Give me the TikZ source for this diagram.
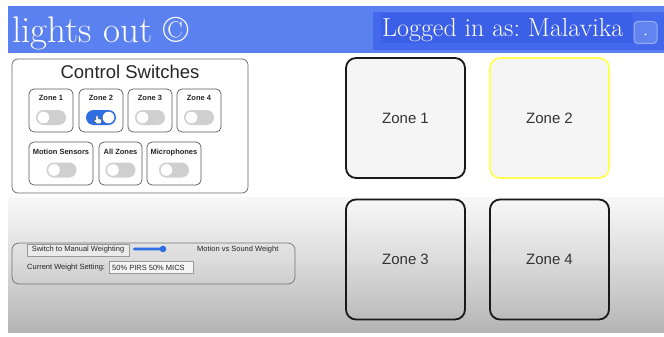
\documentclass[tikz,border=0pt]{standalone}
\usepackage{fontspec}
\setsansfont{Liberation Sans}
\usetikzlibrary{calc}
\frenchspacing
\definecolor{barblue}{HTML}{5B80EF}
\definecolor{userblue}{HTML}{4468EC}
\definecolor{namehl}{HTML}{3B5FE6}
\definecolor{btnblue}{HTML}{6A8BF0}
\definecolor{toggleoff}{HTML}{CFCFCF}
\definecolor{toggleon}{HTML}{2F6FE3}
\definecolor{cardfill}{HTML}{F5F5F5}
\definecolor{zoneyellow}{HTML}{FFFF55}
\tikzset{
  panel/.style={draw=black!60, rounded corners=6pt, line width=0.7pt},
  minicard/.style={draw=black!65, rounded corners=5pt, line width=0.7pt, fill=white},
  minilabel/.style={font=\sffamily\bfseries\fontsize{7.5}{8}\selectfont, text=black!85, inner sep=0pt},
  bigcard/.style={draw=black!90, rounded corners=10pt, line width=1.8pt,
    minimum width=119pt, minimum height=120pt, inner sep=0pt,
    font=\sffamily\fontsize{15}{16}\selectfont, text=black!80},
  smalltext/.style={font=\sffamily\fontsize{7.5}{8}\selectfont, text=black!85, inner sep=0pt},
  formbox/.style={draw=black!40, fill=black!8, inner sep=0pt},
}
% toggle switch: #1 centre, #2 on/off
\newcommand{\togglesw}[2]{%
  \ifnum#2=1
    \fill[toggleon, rounded corners=7.5pt] ($(#1)+(-15,-7.5)$) rectangle ($(#1)+(15,7.5)$);
    \fill[white] ($(#1)+(7.5,0)$) circle (5.8);
  \else
    \fill[toggleoff, rounded corners=7.5pt] ($(#1)+(-15,-7.5)$) rectangle ($(#1)+(15,7.5)$);
    \fill[white] ($(#1)+(-7.5,0)$) circle (5.8);
  \fi}
\begin{document}
\begin{tikzpicture}[x=1pt,y=-1pt]
\useasboundingbox (0,0) rectangle (664,337);
\fill[white] (0,0) rectangle (664,337);

% page background: white top, grey gradient lower part (drawn as thin bands)
\foreach \i in {0,...,67}{
  \pgfmathsetmacro\shadeval{3+21*\i/67+5.5*(\i/67)^2}
  \fill[black!\shadeval] (8,197+2*\i) rectangle (664,199.6+2*\i);
}
\fill[white] (0,333) rectangle (664,337);

% header bar
\fill[barblue] (8,6) rectangle (664,53);
\node[anchor=base west, inner sep=0pt, text=white, font=\fontsize{37}{38}\selectfont]
  (brand) at (12,43) {lights out \textcopyright};
\fill[userblue] (373,12) rectangle (664,50);
\fill[namehl] (381,13) rectangle (633,43);
\node[anchor=base west, inner sep=0pt, text=white, font=\fontsize{26}{27}\selectfont]
  (user) at (382,37) {Logged in as: Malavika};
\node[draw=btnblue!70!white, fill=btnblue!80!userblue, rounded corners=4pt, line width=1pt,
  minimum width=23pt, minimum height=22pt, inner sep=0pt] (menu) at (645.5,32.5) {};
\fill[white] ($(menu.center)+(-1.3,1.5)$) -- ($(menu.center)+(1.3,1.5)$) -- ($(menu.center)+(0,3)$) -- cycle;

% control switches panel
\node[panel, fill=white, minimum width=236pt, minimum height=134pt, inner sep=0pt]
  (ctrl) at (130,126) {};
\node[anchor=base, inner sep=0pt, font=\sffamily\fontsize{18.5}{19}\selectfont, text=black!85]
  (ctrltitle) at (130,78.5) {Control Switches};

% row 1: zones
\foreach \nm/\cx/\lab/\st in {sz1/51/Zone 1/0, sz2/101/Zone 2/1, sz3/150/Zone 3/0, sz4/199/Zone 4/0}{
  \node[minicard, minimum width=44pt, minimum height=43pt] (\nm) at (\cx,110.5) {};
  \node[minilabel, anchor=base] (\nm lab) at (\cx,100.8) {\lab};
  \coordinate (\nm t) at (\cx,117.5);
  \togglesw{\nm t}{\st}
}
% row 2: sensors
\node[minicard, minimum width=64pt, minimum height=43pt] (motion) at (61,163.5) {};
\node[minilabel, anchor=base] (motionlab) at (61,154) {Motion Sensors};
\coordinate (motiont) at (61.5,170);
\togglesw{motiont}{0}
\node[minicard, minimum width=43pt, minimum height=43pt] (allz) at (120.5,163.5) {};
\node[minilabel, anchor=base] (allzlab) at (120.5,154) {All Zones};
\coordinate (allzt) at (120.5,170);
\togglesw{allzt}{0}
\node[minicard, minimum width=54pt, minimum height=43pt] (mics) at (174,163.5) {};
\node[minilabel, anchor=base] (micslab) at (174,154) {Microphones};
\coordinate (micst) at (174,170);
\togglesw{micst}{0}

% pointer hand over the zone 2 switch
\begin{scope}[shift={(96,115.5)}]
  \draw[black!70, fill=white, line width=0.4pt, rounded corners=0.8pt]
    (0,0) -- (0,5) -- (-1.5,3.8) -- (-2.3,4.5) -- (0.2,8) -- (5,8) -- (5.6,5.5)
    -- (5.6,4) -- (4.4,3.6) -- (3.2,3.4) -- (2,3.2) -- (2,0) -- cycle;
\end{scope}

% weighting panel
\node[panel, draw=black!55, minimum width=283pt, minimum height=41pt, inner sep=0pt, rounded corners=7pt]
  (weight) at (153.5,263.5) {};
\node[formbox, minimum width=102pt, minimum height=12pt] (manual) at (78,250) {};
\node[smalltext] (manuallab) at (manual.center) {Switch to Manual Weighting};
\coordinate (trackL) at (133,249);
\coordinate (trackR) at (193,249);
\coordinate (knob) at (163,249);
\fill[black!12, rounded corners=1.2pt] ($(trackL)+(0,-1.3)$) rectangle ($(trackR)+(0,1.3)$);
\fill[toggleon, rounded corners=1.2pt] ($(trackL)+(0,-1.3)$) rectangle ($(knob)+(0,1.3)$);
\fill[toggleon] (knob) circle (3.3);
\node[smalltext, anchor=west] (mvs) at (197,249.5) {Motion vs Sound Weight};
\node[smalltext, anchor=west] (cur) at (27,267.5) {Current Weight Setting:};
\node[formbox, fill=black!4, minimum width=84pt, minimum height=12pt] (setting) at (151,267) {};
\node[smalltext, anchor=west] (settinglab) at (112,267.5) {50\% PIRS 50\% MICS};

% zone tiles
\node[bigcard, fill=cardfill] (zone1) at (405.5,118) {Zone 1};
\node[bigcard, fill=cardfill, draw=zoneyellow] (zone2) at (549.5,118) {Zone 2};
\node[bigcard] (zone3) at (405.5,259.5) {Zone 3};
\node[bigcard] (zone4) at (549.5,259.5) {Zone 4};
\end{tikzpicture}
\end{document}
